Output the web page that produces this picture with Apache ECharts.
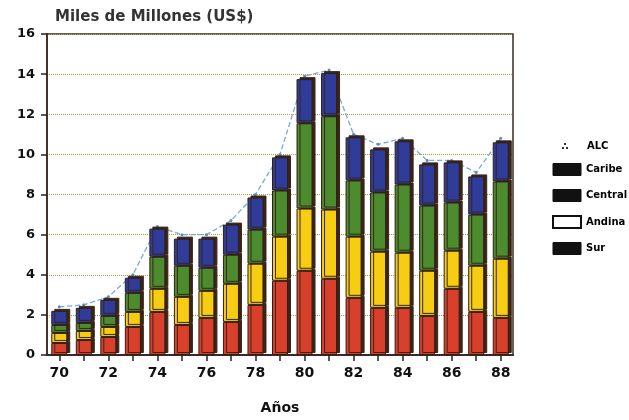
<!DOCTYPE html>
<html>
<head>
<meta charset="utf-8">
<script src="https://cdn.jsdelivr.net/npm/echarts@6/dist/echarts.min.js"></script>
<style>html,body{margin:0;padding:0;background:#fff}#c{width:629px;height:420px}</style>
</head>
<body>
<div id="c"></div>
<script>
var years = ['70','71','72','73','74','75','76','77','78','79','80','81','82','83','84','85','86','87','88'];
var sur     = [0.6, 0.75, 0.9, 1.4, 2.15, 1.5, 1.85, 1.65, 2.5, 3.7, 4.2, 3.8, 2.85, 2.35, 2.35, 1.95, 3.3, 2.15, 1.85];
var andina  = [0.5, 0.45, 0.5, 0.75, 1.15, 1.4, 1.35, 1.9, 2.05, 2.2, 3.1, 3.45, 3.05, 2.8, 2.75, 2.25, 1.9, 2.3, 2.95];
var central = [0.4, 0.4, 0.55, 0.95, 1.6, 1.55, 1.15, 1.45, 1.7, 2.3, 4.25, 4.65, 2.8, 2.95, 3.4, 3.25, 2.4, 2.55, 3.85];
var caribe  = [0.7, 0.75, 0.8, 0.75, 1.4, 1.35, 1.45, 1.5, 1.6, 1.65, 2.2, 2.15, 2.15, 2.15, 2.15, 2.05, 2.0, 1.9, 1.95];
var alc     = [2.4, 2.5, 2.9, 4.0, 6.4, 6.0, 6.0, 6.7, 8.0, 10.0, 13.9, 14.2, 11.0, 10.5, 10.8, 9.7, 9.7, 9.1, 10.8];
var yTicks  = {min: 0, max: 16, interval: 2};

var FONT = 'DejaVu Sans';
var chart = echarts.init(document.getElementById('c'), null, {renderer: 'canvas'});
function barSeries(name, data, color) {
  return {
    name: name, type: 'bar', stack: 'total', data: data, barWidth: 16, z: 3,
    itemStyle: {color: color, borderColor: '#2e2018', borderWidth: 1,
      shadowColor: '#3a2418', shadowBlur: 0, shadowOffsetX: 3, shadowOffsetY: -2}
  };
}
chart.setOption({
  animation: false,
  backgroundColor: '#ffffff',
  title: {text: 'Miles de Millones (US$)', left: 50, top: 5,
    textStyle: {fontFamily: FONT, fontSize: 15, fontWeight: 'bold', color: '#333'}},
  grid: {left: 47, right: 116, top: 34, bottom: 59, show: true, borderColor: '#3a2a22', borderWidth: 1.5, backgroundColor: 'transparent'},
  legend: [{
    orient: 'vertical', left: 557, top: 136, itemWidth: 6, itemHeight: 6,
    data: [{name: 'ALC', icon: 'path://M2,0h2v2h-2z M0,4h2v2h-2z M4,4h2v2h-2z', itemStyle: {color: '#333'}}],
    textStyle: {fontFamily: FONT, fontSize: 10, fontWeight: 'bold', color: '#000', padding: [0, 0, 0, 14]}
  }, {
    orient: 'vertical', left: 547, top: 158, itemWidth: 28, itemHeight: 12, itemGap: 13,
    data: [
      {name: 'Caribe', icon: 'rect', itemStyle: {color: '#111', borderColor: '#111', borderWidth: 1}},
      {name: 'Central', icon: 'rect', itemStyle: {color: '#111', borderColor: '#111', borderWidth: 1}},
      {name: 'Andina', icon: 'rect', itemStyle: {color: '#fff', borderColor: '#111', borderWidth: 2}},
      {name: 'Sur', icon: 'rect', itemStyle: {color: '#111', borderColor: '#111', borderWidth: 1}}
    ],
    textStyle: {fontFamily: FONT, fontSize: 10, fontWeight: 'bold', color: '#000'}
  }],
  xAxis: {
    type: 'category', data: years, boundaryGap: true,
    name: 'Años', nameLocation: 'middle', nameGap: 46,
    nameTextStyle: {fontFamily: FONT, fontSize: 14, fontWeight: 'bold', color: '#111'},
    axisLine: {lineStyle: {color: '#3a2a22', width: 2}},
    axisTick: {show: true, interval: 0, alignWithLabel: true, length: 6, lineStyle: {color: '#222', width: 1.5}},
    axisLabel: {interval: 1, margin: 11, fontFamily: FONT, fontSize: 14, fontWeight: 'bold', color: '#111'},
    splitLine: {show: false}
  },
  yAxis: {
    type: 'value', min: yTicks.min, max: yTicks.max, interval: yTicks.interval,
    axisLine: {show: true, lineStyle: {color: '#4a3020', width: 2}},
    axisTick: {show: true, length: 6, lineStyle: {color: '#222', width: 1.5}},
    axisLabel: {margin: 12, fontFamily: FONT, fontSize: 13, fontWeight: 'bold', color: '#111'},
    splitLine: {show: true, lineStyle: {type: 'dotted', color: '#aaa43a', width: 1}}
  },
  series: [
    {name: 'ALC', type: 'line', data: alc, z: 1, symbol: 'circle', symbolSize: 3,
      lineStyle: {type: 'dashed', color: '#78aad4', width: 1.3},
      itemStyle: {color: '#5a8cc0'}},
    barSeries('Sur', sur, '#d8402c'),
    barSeries('Andina', andina, '#f6cd12'),
    barSeries('Central', central, '#4d8c2e'),
    barSeries('Caribe', caribe, '#2f3c9a')
  ]
});
</script>
</body>
</html>
